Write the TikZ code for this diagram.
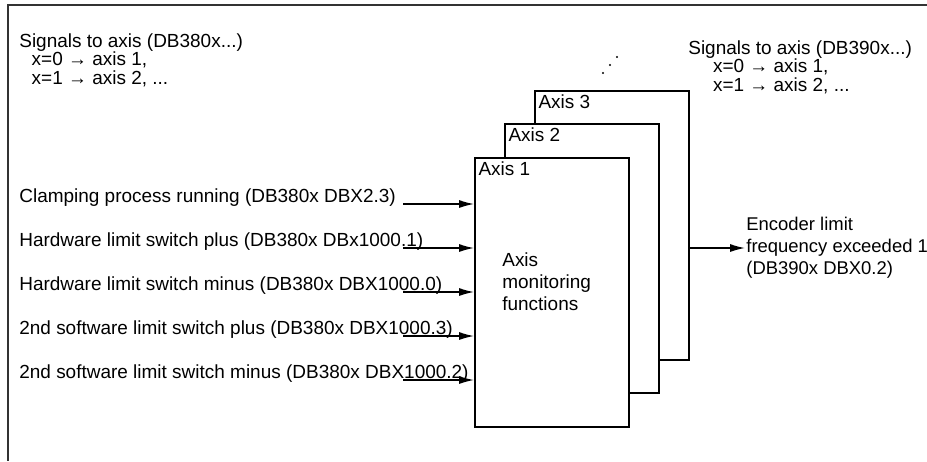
\documentclass[tikz,border=0pt]{standalone}
\usepackage{fontspec}
\setmainfont{Liberation Sans}
\usetikzlibrary{arrows.meta}

\tikzset{
  axisbox/.style={draw, line width=1.1pt, fill=white, anchor=north west,
    minimum width=3.08cm, minimum height=5.38cm, inner sep=0pt},
  boxname/.style={anchor=north west, inner sep=2.4pt},
  sig/.style={-{Latex[length=8.5pt,width=4.6pt]}, line width=0.8pt},
  lbl/.style={anchor=base west, inner sep=0pt},
  txt/.style={anchor=north west, inner sep=0pt, align=left},
}

\begin{document}
\begin{tikzpicture}[x=0.02cm, y=-0.02cm, font=\fontsize{10.8pt}{10.5pt}\selectfont]
\useasboundingbox (0,0) rectangle (927,461);
% frame
\draw[line width=1.1pt, black!80] (927,5) -- (8,5) -- (8,461);

% signal blocks
\node[txt] (dbin) at (19,33) {Signals to axis (DB380x...)\\
  \hspace*{0.65em}x=0 → axis 1,\\
  \hspace*{0.65em}x=1 → axis 2, ...};
\node[txt] (dbout) at (688,40) {Signals to axis (DB390x...)\\
  \hspace*{1.3em}x=0 → axis 1,\\
  \hspace*{1.3em}x=1 → axis 2, ...};

% stacked axes
\node[axisbox] (ax3) at (534,90) {};
\node[boxname] at (ax3.north west) {Axis 3};
\node[axisbox] (ax2) at (504,123) {};
\node[boxname] at (ax2.north west) {Axis 2};
\node[axisbox] (ax1) at (474,157) {};
\node[boxname] at (ax1.north west) {Axis 1};
\node[txt, font=\fontsize{10.8pt}{12.5pt}\selectfont] (mon) at (502,252) {Axis\\ monitoring\\ functions};
\fill (603,73) circle[radius=0.6pt];
\fill (610,65) circle[radius=0.6pt];
\fill (617,57) circle[radius=0.6pt];

% inputs
\node[lbl] (in1) at (19,202) {Clamping process running (DB380x DBX2.3)};
\node[lbl] (in2) at (19,246) {Hardware limit switch plus (DB380x DBx1000.1)};
\node[lbl] (in3) at (19,290) {Hardware limit switch minus (DB380x DBX1000.0)};
\node[lbl] (in4) at (19,334) {2nd software limit switch plus (DB380x DBX1000.3)};
\node[lbl] (in5) at (19,378) {2nd software limit switch minus (DB380x DBX1000.2)};
\coordinate (s1) at (403,204);
\coordinate (s2) at (403,248);
\coordinate (s3) at (403,292);
\coordinate (s4) at (403,336);
\coordinate (s5) at (403,380);
\draw[sig] (s1) -- (s1 -| ax1.west);
\draw[sig] (s2) -- (s2 -| ax1.west);
\draw[sig] (s3) -- (s3 -| ax1.west);
\draw[sig] (s4) -- (s4 -| ax1.west);
\draw[sig] (s5) -- (s5 -| ax1.west);

% output
\node[txt, font=\fontsize{10.5pt}{12.6pt}\selectfont, anchor=west, inner sep=0.6pt] (enc) at (745,248)
  {Encoder limit\\ frequency exceeded 1\\ (DB390x DBX0.2)};
\draw[sig] (enc.west -| ax3.east) -- (enc.west);
\end{tikzpicture}
\end{document}
